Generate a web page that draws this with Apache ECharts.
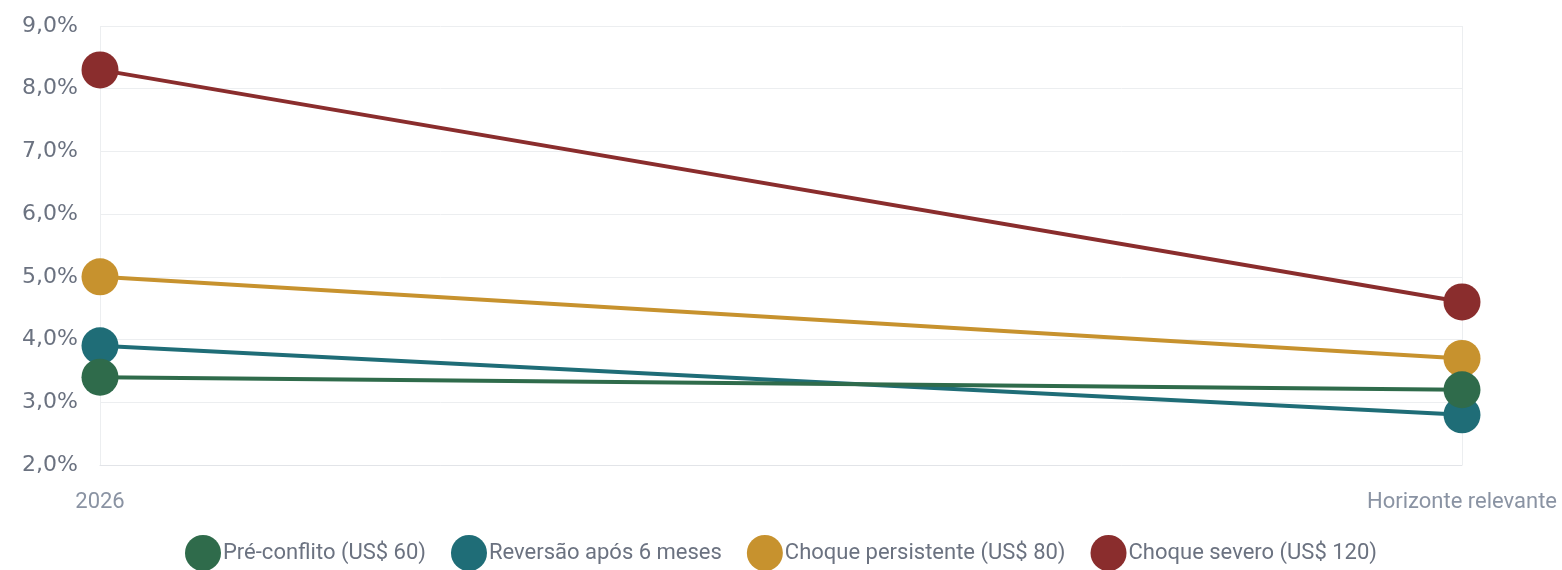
<!DOCTYPE html>
<html>
<head>
<meta charset="utf-8">
<script src="https://cdn.jsdelivr.net/npm/echarts@6/dist/echarts.min.js"></script>
<style>
	html, body { margin: 0; padding: 0; background: #fff; }
	#chart { width: 1562px; height: 570px; }
</style>
</head>
<body>
<div id="chart"></div>
<script>
const categories = ['2026', 'Horizonte relevante']
const seriesNames = ['Pré-conflito (US$ 60)', 'Reversão após 6 meses', 'Choque persistente (US$ 80)', 'Choque severo (US$ 120)']
const preConflito = [3.4, 3.2]
const reversao = [3.9, 2.8]
const persistente = [5.0, 3.7]
const severo = [8.3, 4.6]
const colors = ['#2f6b4b', '#1f6d77', '#c7922e', '#8a2d2d']

const font = 'Roboto, "Noto Sans", sans-serif'

const makeSeries = (name, data, color, z) => ({
	name: name,
	type: 'line',
	data: data,
	z: z,
	symbol: 'circle',
	symbolSize: 37,
	showSymbol: true,
	itemStyle: { color: color },
	lineStyle: { color: color, width: 4 },
	emphasis: { disabled: true },
})

const chart = echarts.init(document.getElementById('chart'))
chart.setOption({
	animation: false,
	textStyle: { fontFamily: font },
	grid: { left: 100, right: 100, top: 26, bottom: 105 },
	legend: {
		bottom: -1,
		left: 'center',
		padding: 0,
		icon: 'circle',
		itemWidth: 36,
		itemHeight: 36,
		itemGap: 25,
		textStyle: { fontSize: 22, color: '#6b7280', padding: [0, 0, 0, -3] },
		data: seriesNames,
	},
	xAxis: {
		type: 'category',
		data: categories,
		boundaryGap: false,
		axisLine: { show: true, lineStyle: { color: '#e2e4e8' } },
		axisTick: { show: false },
		splitLine: { show: true, lineStyle: { color: '#eceef0' } },
		axisLabel: { color: '#8a93a3', fontSize: 22, margin: 26 },
	},
	yAxis: {
		type: 'value',
		min: 2,
		max: 9,
		interval: 1,
		axisLine: { show: false },
		axisTick: { show: false },
		splitLine: { lineStyle: { color: '#eceef0' } },
		axisLabel: {
			color: '#6b7280',
			fontFamily: '"DejaVu Sans", sans-serif',
			fontSize: 22,
			margin: 22,
			formatter: (v) => v.toFixed(1).replace('.', ',') + '%',
		},
	},
	series: [
		makeSeries(seriesNames[0], preConflito, colors[0], 5),
		makeSeries(seriesNames[1], reversao, colors[1], 2),
		makeSeries(seriesNames[2], persistente, colors[2], 3),
		makeSeries(seriesNames[3], severo, colors[3], 4),
	],
})
</script>
</body>
</html>
